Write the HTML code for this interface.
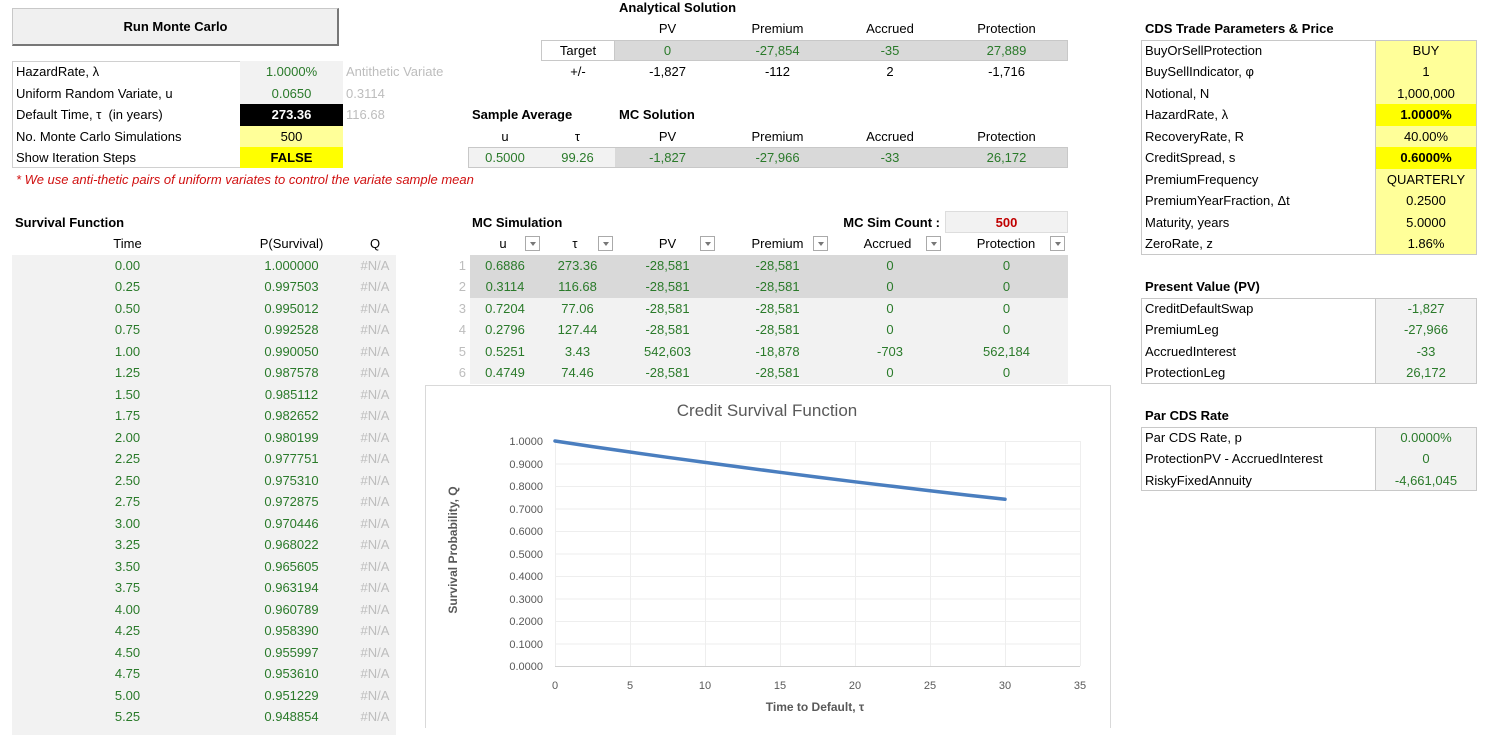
<!DOCTYPE html>
<html><head><meta charset="utf-8">
<style>
*{margin:0;padding:0;box-sizing:border-box}
body{width:1500px;height:728px;overflow:hidden;background:#fff;font-family:"Liberation Sans",sans-serif;font-size:13px;color:#000;position:relative}
.c{position:absolute;height:21px;line-height:21px;white-space:nowrap}
.r{text-align:right}.m{text-align:center}
.g{color:#2a7a2a}.b{font-weight:bold}.gr{color:#bdbdbd}
.box{position:absolute}
.dd{position:absolute;width:15px;height:15px;border:1px solid #aaa;background:#fff}
.dd:after{content:"";position:absolute;left:4px;top:5px;border-left:3px solid transparent;border-right:3px solid transparent;border-top:4px solid #777}
</style></head><body>

<div class="box" style="left:12px;top:8px;width:327px;height:38px;background:#f0f0f0;border:1px solid #c8c8c8;border-right:2px solid #777;border-bottom:2px solid #777"></div>
<div class="c m b" style="left:12px;top:16px;width:327px">Run Monte Carlo</div>

<div class="box" style="left:12px;top:61px;width:331px;height:107px;border:1px solid #d0d0d0"></div>
<div class="box" style="left:240px;top:61px;width:103px;height:43px;background:#f2f2f2"></div>
<div class="box" style="left:240px;top:104px;width:103px;height:21.5px;background:#000"></div>
<div class="box" style="left:240px;top:125.5px;width:103px;height:21.5px;background:#ffff99"></div>
<div class="box" style="left:240px;top:147px;width:103px;height:21px;background:#ffff00"></div>
<div class="c" style="left:16px;top:61px">HazardRate, λ</div>
<div class="c m g" style="left:240px;top:61px;width:103px">1.0000%</div>
<div class="c gr" style="left:346px;top:61px">Antithetic Variate</div>
<div class="c" style="left:16px;top:82.5px">Uniform Random Variate, u</div>
<div class="c m g" style="left:240px;top:82.5px;width:103px">0.0650</div>
<div class="c gr" style="left:346px;top:82.5px">0.3114</div>
<div class="c" style="left:16px;top:104px">Default Time, τ &nbsp;(in years)</div>
<div class="c m b" style="left:240px;top:104px;width:103px;color:#fff">273.36</div>
<div class="c gr" style="left:346px;top:104px">116.68</div>
<div class="c" style="left:16px;top:125.5px">No. Monte Carlo Simulations</div>
<div class="c m" style="left:240px;top:125.5px;width:103px">500</div>
<div class="c" style="left:16px;top:147px">Show Iteration Steps</div>
<div class="c m b" style="left:240px;top:147px;width:103px">FALSE</div>
<div class="c" style="left:16px;top:168.5px;color:#d01010;font-style:italic">* We use anti-thetic pairs of uniform variates to control the variate sample mean</div>

<div class="c b" style="left:619px;top:-3px">Analytical Solution</div>
<div class="c m" style="left:615px;top:18px;width:105px">PV</div>
<div class="c m" style="left:720px;top:18px;width:115px">Premium</div>
<div class="c m" style="left:835px;top:18px;width:110px">Accrued</div>
<div class="c m" style="left:945px;top:18px;width:123px">Protection</div>
<div class="box" style="left:541px;top:39.5px;width:527px;height:21.5px;border:1px solid #c8c8c8;background:#d9d9d9"></div>
<div class="box" style="left:542px;top:40.5px;width:73px;height:19.5px;background:#fff;border-right:1px solid #c8c8c8"></div>
<div class="c m" style="left:541px;top:39.5px;width:74px">Target</div>
<div class="c m g" style="left:615px;top:39.5px;width:105px">0</div>
<div class="c m g" style="left:720px;top:39.5px;width:115px">-27,854</div>
<div class="c m g" style="left:835px;top:39.5px;width:110px">-35</div>
<div class="c m g" style="left:945px;top:39.5px;width:123px">27,889</div>
<div class="c m" style="left:541px;top:61px;width:74px">+/-</div>
<div class="c m" style="left:615px;top:61px;width:105px">-1,827</div>
<div class="c m" style="left:720px;top:61px;width:115px">-112</div>
<div class="c m" style="left:835px;top:61px;width:110px">2</div>
<div class="c m" style="left:945px;top:61px;width:123px">-1,716</div>

<div class="c b" style="left:472px;top:104px">Sample Average</div>
<div class="c b" style="left:619px;top:104px">MC Solution</div>
<div class="c m" style="left:470px;top:125.5px;width:70px">u</div>
<div class="c m" style="left:540px;top:125.5px;width:75px">τ</div>
<div class="c m" style="left:615px;top:125.5px;width:105px">PV</div>
<div class="c m" style="left:720px;top:125.5px;width:115px">Premium</div>
<div class="c m" style="left:835px;top:125.5px;width:110px">Accrued</div>
<div class="c m" style="left:945px;top:125.5px;width:123px">Protection</div>
<div class="box" style="left:468px;top:147px;width:600px;height:21px;border:1px solid #c8c8c8;background:#d9d9d9"></div>
<div class="box" style="left:469px;top:148px;width:146px;height:19px;background:#f2f2f2"></div>
<div class="c m g" style="left:470px;top:147px;width:70px">0.5000</div>
<div class="c m g" style="left:540px;top:147px;width:75px">99.26</div>
<div class="c m g" style="left:615px;top:147px;width:105px">-1,827</div>
<div class="c m g" style="left:720px;top:147px;width:115px">-27,966</div>
<div class="c m g" style="left:835px;top:147px;width:110px">-33</div>
<div class="c m g" style="left:945px;top:147px;width:123px">26,172</div>

<div class="c b" style="left:1145px;top:18px">CDS Trade Parameters &amp; Price</div>
<div class="box" style="left:1141px;top:39.5px;width:336px;height:215px;border:1px solid #c8c8c8"></div>
<div class="box" style="left:1375px;top:40.5px;width:101px;height:213px;background:#ffff99;border-left:1px solid #c8c8c8"></div>
<div class="box" style="left:1376px;top:104px;width:100px;height:21.5px;background:#ffff00"></div>
<div class="box" style="left:1376px;top:147px;width:100px;height:21.5px;background:#ffff00"></div>
<div class="c" style="left:1145px;top:39.5px">BuyOrSellProtection</div><div class="c m" style="left:1375px;top:39.5px;width:102px">BUY</div>
<div class="c" style="left:1145px;top:61px">BuySellIndicator, φ</div><div class="c m" style="left:1375px;top:61px;width:102px">1</div>
<div class="c" style="left:1145px;top:82.5px">Notional, N</div><div class="c m" style="left:1375px;top:82.5px;width:102px">1,000,000</div>
<div class="c" style="left:1145px;top:104px">HazardRate, λ</div><div class="c m b" style="left:1375px;top:104px;width:102px">1.0000%</div>
<div class="c" style="left:1145px;top:125.5px">RecoveryRate, R</div><div class="c m" style="left:1375px;top:125.5px;width:102px">40.00%</div>
<div class="c" style="left:1145px;top:147px">CreditSpread, s</div><div class="c m b" style="left:1375px;top:147px;width:102px">0.6000%</div>
<div class="c" style="left:1145px;top:168.5px">PremiumFrequency</div><div class="c m" style="left:1375px;top:168.5px;width:102px">QUARTERLY</div>
<div class="c" style="left:1145px;top:190px">PremiumYearFraction, Δt</div><div class="c m" style="left:1375px;top:190px;width:102px">0.2500</div>
<div class="c" style="left:1145px;top:211.5px">Maturity, years</div><div class="c m" style="left:1375px;top:211.5px;width:102px">5.0000</div>
<div class="c" style="left:1145px;top:233px">ZeroRate, z</div><div class="c m" style="left:1375px;top:233px;width:102px">1.86%</div>

<div class="c b" style="left:1145px;top:276px">Present Value (PV)</div>
<div class="box" style="left:1141px;top:297.5px;width:336px;height:86px;border:1px solid #c8c8c8"></div>
<div class="box" style="left:1375px;top:298.5px;width:101px;height:84px;background:#f2f2f2;border-left:1px solid #c8c8c8"></div>
<div class="c" style="left:1145px;top:297.5px">CreditDefaultSwap</div><div class="c m g" style="left:1375px;top:297.5px;width:102px">-1,827</div>
<div class="c" style="left:1145px;top:319px">PremiumLeg</div><div class="c m g" style="left:1375px;top:319px;width:102px">-27,966</div>
<div class="c" style="left:1145px;top:340.5px">AccruedInterest</div><div class="c m g" style="left:1375px;top:340.5px;width:102px">-33</div>
<div class="c" style="left:1145px;top:362px">ProtectionLeg</div><div class="c m g" style="left:1375px;top:362px;width:102px">26,172</div>

<div class="c b" style="left:1145px;top:405px">Par CDS Rate</div>
<div class="box" style="left:1141px;top:426.5px;width:336px;height:64px;border:1px solid #c8c8c8"></div>
<div class="box" style="left:1375px;top:427.5px;width:101px;height:62px;background:#f2f2f2;border-left:1px solid #c8c8c8"></div>
<div class="c" style="left:1145px;top:426.5px">Par CDS Rate, p</div><div class="c m g" style="left:1375px;top:426.5px;width:102px">0.0000%</div>
<div class="c" style="left:1145px;top:448px">ProtectionPV - AccruedInterest</div><div class="c m g" style="left:1375px;top:448px;width:102px">0</div>
<div class="c" style="left:1145px;top:469.5px">RiskyFixedAnnuity</div><div class="c m g" style="left:1375px;top:469.5px;width:102px">-4,661,045</div>

<div class="c b" style="left:15px;top:211.5px">Survival Function</div>
<div class="c m" style="left:80px;top:233px;width:95px">Time</div>
<div class="c m" style="left:240px;top:233px;width:103px">P(Survival)</div>
<div class="c m" style="left:355px;top:233px;width:40px">Q</div>
<div class="box" style="left:12px;top:254.5px;width:384px;height:480px;background:#f2f2f2"></div>
<div class="c m g" style="left:80px;top:254.5px;width:95px">0.00</div><div class="c m g" style="left:240px;top:254.5px;width:103px">1.000000</div><div class="c m gr" style="left:352px;top:254.5px;width:46px">#N/A</div>
<div class="c m g" style="left:80px;top:276px;width:95px">0.25</div><div class="c m g" style="left:240px;top:276px;width:103px">0.997503</div><div class="c m gr" style="left:352px;top:276px;width:46px">#N/A</div>
<div class="c m g" style="left:80px;top:297.5px;width:95px">0.50</div><div class="c m g" style="left:240px;top:297.5px;width:103px">0.995012</div><div class="c m gr" style="left:352px;top:297.5px;width:46px">#N/A</div>
<div class="c m g" style="left:80px;top:319px;width:95px">0.75</div><div class="c m g" style="left:240px;top:319px;width:103px">0.992528</div><div class="c m gr" style="left:352px;top:319px;width:46px">#N/A</div>
<div class="c m g" style="left:80px;top:340.5px;width:95px">1.00</div><div class="c m g" style="left:240px;top:340.5px;width:103px">0.990050</div><div class="c m gr" style="left:352px;top:340.5px;width:46px">#N/A</div>
<div class="c m g" style="left:80px;top:362px;width:95px">1.25</div><div class="c m g" style="left:240px;top:362px;width:103px">0.987578</div><div class="c m gr" style="left:352px;top:362px;width:46px">#N/A</div>
<div class="c m g" style="left:80px;top:383.5px;width:95px">1.50</div><div class="c m g" style="left:240px;top:383.5px;width:103px">0.985112</div><div class="c m gr" style="left:352px;top:383.5px;width:46px">#N/A</div>
<div class="c m g" style="left:80px;top:405px;width:95px">1.75</div><div class="c m g" style="left:240px;top:405px;width:103px">0.982652</div><div class="c m gr" style="left:352px;top:405px;width:46px">#N/A</div>
<div class="c m g" style="left:80px;top:426.5px;width:95px">2.00</div><div class="c m g" style="left:240px;top:426.5px;width:103px">0.980199</div><div class="c m gr" style="left:352px;top:426.5px;width:46px">#N/A</div>
<div class="c m g" style="left:80px;top:448px;width:95px">2.25</div><div class="c m g" style="left:240px;top:448px;width:103px">0.977751</div><div class="c m gr" style="left:352px;top:448px;width:46px">#N/A</div>
<div class="c m g" style="left:80px;top:469.5px;width:95px">2.50</div><div class="c m g" style="left:240px;top:469.5px;width:103px">0.975310</div><div class="c m gr" style="left:352px;top:469.5px;width:46px">#N/A</div>
<div class="c m g" style="left:80px;top:491px;width:95px">2.75</div><div class="c m g" style="left:240px;top:491px;width:103px">0.972875</div><div class="c m gr" style="left:352px;top:491px;width:46px">#N/A</div>
<div class="c m g" style="left:80px;top:512.5px;width:95px">3.00</div><div class="c m g" style="left:240px;top:512.5px;width:103px">0.970446</div><div class="c m gr" style="left:352px;top:512.5px;width:46px">#N/A</div>
<div class="c m g" style="left:80px;top:534px;width:95px">3.25</div><div class="c m g" style="left:240px;top:534px;width:103px">0.968022</div><div class="c m gr" style="left:352px;top:534px;width:46px">#N/A</div>
<div class="c m g" style="left:80px;top:555.5px;width:95px">3.50</div><div class="c m g" style="left:240px;top:555.5px;width:103px">0.965605</div><div class="c m gr" style="left:352px;top:555.5px;width:46px">#N/A</div>
<div class="c m g" style="left:80px;top:577px;width:95px">3.75</div><div class="c m g" style="left:240px;top:577px;width:103px">0.963194</div><div class="c m gr" style="left:352px;top:577px;width:46px">#N/A</div>
<div class="c m g" style="left:80px;top:598.5px;width:95px">4.00</div><div class="c m g" style="left:240px;top:598.5px;width:103px">0.960789</div><div class="c m gr" style="left:352px;top:598.5px;width:46px">#N/A</div>
<div class="c m g" style="left:80px;top:620px;width:95px">4.25</div><div class="c m g" style="left:240px;top:620px;width:103px">0.958390</div><div class="c m gr" style="left:352px;top:620px;width:46px">#N/A</div>
<div class="c m g" style="left:80px;top:641.5px;width:95px">4.50</div><div class="c m g" style="left:240px;top:641.5px;width:103px">0.955997</div><div class="c m gr" style="left:352px;top:641.5px;width:46px">#N/A</div>
<div class="c m g" style="left:80px;top:663px;width:95px">4.75</div><div class="c m g" style="left:240px;top:663px;width:103px">0.953610</div><div class="c m gr" style="left:352px;top:663px;width:46px">#N/A</div>
<div class="c m g" style="left:80px;top:684.5px;width:95px">5.00</div><div class="c m g" style="left:240px;top:684.5px;width:103px">0.951229</div><div class="c m gr" style="left:352px;top:684.5px;width:46px">#N/A</div>
<div class="c m g" style="left:80px;top:706px;width:95px">5.25</div><div class="c m g" style="left:240px;top:706px;width:103px">0.948854</div><div class="c m gr" style="left:352px;top:706px;width:46px">#N/A</div>

<div class="c b" style="left:472px;top:211.5px">MC Simulation</div>
<div class="c b r" style="left:780px;top:211.5px;width:160px">MC Sim Count :</div>
<div class="box" style="left:945px;top:210.5px;width:123px;height:22px;background:#f2f2f2;border:1px solid #ddd"></div>
<div class="c m b" style="left:945px;top:211.5px;width:123px;color:#c00000">500</div>
<div class="c m" style="left:478px;top:233px;width:50px">u</div><div class="dd" style="left:525px;top:236px"></div>
<div class="c m" style="left:550px;top:233px;width:50px">τ</div><div class="dd" style="left:598px;top:236px"></div>
<div class="c m" style="left:640px;top:233px;width:55px">PV</div><div class="dd" style="left:700px;top:236px"></div>
<div class="c m" style="left:740px;top:233px;width:75px">Premium</div><div class="dd" style="left:813px;top:236px"></div>
<div class="c m" style="left:850px;top:233px;width:75px">Accrued</div><div class="dd" style="left:926px;top:236px"></div>
<div class="c m" style="left:965px;top:233px;width:82px">Protection</div><div class="dd" style="left:1050px;top:236px"></div>
<div class="box" style="left:470px;top:254.5px;width:598px;height:43px;background:#d9d9d9"></div>
<div class="box" style="left:470px;top:297.5px;width:598px;height:86px;background:#f2f2f2"></div>

<div class="c r gr" style="left:440px;top:254.5px;width:26px">1</div><div class="c m g" style="left:470px;top:254.5px;width:70px">0.6886</div><div class="c m g" style="left:540px;top:254.5px;width:75px">273.36</div><div class="c m g" style="left:615px;top:254.5px;width:105px">-28,581</div><div class="c m g" style="left:720px;top:254.5px;width:115px">-28,581</div><div class="c m g" style="left:835px;top:254.5px;width:110px">0</div><div class="c m g" style="left:945px;top:254.5px;width:123px">0</div>
<div class="c r gr" style="left:440px;top:276px;width:26px">2</div><div class="c m g" style="left:470px;top:276px;width:70px">0.3114</div><div class="c m g" style="left:540px;top:276px;width:75px">116.68</div><div class="c m g" style="left:615px;top:276px;width:105px">-28,581</div><div class="c m g" style="left:720px;top:276px;width:115px">-28,581</div><div class="c m g" style="left:835px;top:276px;width:110px">0</div><div class="c m g" style="left:945px;top:276px;width:123px">0</div>
<div class="c r gr" style="left:440px;top:297.5px;width:26px">3</div><div class="c m g" style="left:470px;top:297.5px;width:70px">0.7204</div><div class="c m g" style="left:540px;top:297.5px;width:75px">77.06</div><div class="c m g" style="left:615px;top:297.5px;width:105px">-28,581</div><div class="c m g" style="left:720px;top:297.5px;width:115px">-28,581</div><div class="c m g" style="left:835px;top:297.5px;width:110px">0</div><div class="c m g" style="left:945px;top:297.5px;width:123px">0</div>
<div class="c r gr" style="left:440px;top:319px;width:26px">4</div><div class="c m g" style="left:470px;top:319px;width:70px">0.2796</div><div class="c m g" style="left:540px;top:319px;width:75px">127.44</div><div class="c m g" style="left:615px;top:319px;width:105px">-28,581</div><div class="c m g" style="left:720px;top:319px;width:115px">-28,581</div><div class="c m g" style="left:835px;top:319px;width:110px">0</div><div class="c m g" style="left:945px;top:319px;width:123px">0</div>
<div class="c r gr" style="left:440px;top:340.5px;width:26px">5</div><div class="c m g" style="left:470px;top:340.5px;width:70px">0.5251</div><div class="c m g" style="left:540px;top:340.5px;width:75px">3.43</div><div class="c m g" style="left:615px;top:340.5px;width:105px">542,603</div><div class="c m g" style="left:720px;top:340.5px;width:115px">-18,878</div><div class="c m g" style="left:835px;top:340.5px;width:110px">-703</div><div class="c m g" style="left:945px;top:340.5px;width:123px">562,184</div>
<div class="c r gr" style="left:440px;top:362px;width:26px">6</div><div class="c m g" style="left:470px;top:362px;width:70px">0.4749</div><div class="c m g" style="left:540px;top:362px;width:75px">74.46</div><div class="c m g" style="left:615px;top:362px;width:105px">-28,581</div><div class="c m g" style="left:720px;top:362px;width:115px">-28,581</div><div class="c m g" style="left:835px;top:362px;width:110px">0</div><div class="c m g" style="left:945px;top:362px;width:123px">0</div>

<svg style="position:absolute;left:0;top:0" width="1500" height="728" viewBox="0 0 1500 728" font-family="Liberation Sans, sans-serif">
<rect x="425.5" y="385.5" width="685" height="350" fill="#fff" stroke="#d9d9d9"/>
<g stroke="#eeeeee" stroke-width="1">
<line x1="555" x2="1080" y1="441.5" y2="441.5"/><line x1="555" x2="1080" y1="464" y2="464"/><line x1="555" x2="1080" y1="486.5" y2="486.5"/><line x1="555" x2="1080" y1="509" y2="509"/><line x1="555" x2="1080" y1="531.5" y2="531.5"/><line x1="555" x2="1080" y1="554" y2="554"/><line x1="555" x2="1080" y1="576.5" y2="576.5"/><line x1="555" x2="1080" y1="599" y2="599"/><line x1="555" x2="1080" y1="621.5" y2="621.5"/><line x1="555" x2="1080" y1="644" y2="644"/>
<line y1="441" y2="666" x1="555.5" x2="555.5"/><line y1="441" y2="666" x1="630.5" x2="630.5"/><line y1="441" y2="666" x1="705.5" x2="705.5"/><line y1="441" y2="666" x1="780.5" x2="780.5"/><line y1="441" y2="666" x1="855.5" x2="855.5"/><line y1="441" y2="666" x1="930.5" x2="930.5"/><line y1="441" y2="666" x1="1005.5" x2="1005.5"/><line y1="441" y2="666" x1="1080.5" x2="1080.5"/>
</g>
<line x1="555" x2="1080" y1="666.5" y2="666.5" stroke="#d0d0d0"/>
<text x="767" y="416" text-anchor="middle" font-size="17" fill="#595959">Credit Survival Function</text>
<g font-size="11" fill="#595959" text-anchor="end">
<text x="543" y="445">1.0000</text><text x="543" y="468">0.9000</text><text x="543" y="490">0.8000</text><text x="543" y="513">0.7000</text><text x="543" y="535">0.6000</text><text x="543" y="558">0.5000</text><text x="543" y="580">0.4000</text><text x="543" y="603">0.3000</text><text x="543" y="625">0.2000</text><text x="543" y="648">0.1000</text><text x="543" y="670">0.0000</text>
</g>
<g font-size="11" fill="#595959" text-anchor="middle">
<text x="555" y="689">0</text><text x="630" y="689">5</text><text x="705" y="689">10</text><text x="780" y="689">15</text><text x="855" y="689">20</text><text x="930" y="689">25</text><text x="1005" y="689">30</text><text x="1080" y="689">35</text>
</g>
<text x="815" y="711" text-anchor="middle" font-size="12" font-weight="bold" fill="#595959">Time to Default, τ</text>
<text transform="translate(457,550) rotate(-90)" text-anchor="middle" font-size="12" font-weight="bold" fill="#595959">Survival Probability, Q</text>
<polyline fill="none" stroke="#4a7ebf" stroke-width="3.5" stroke-linecap="round" points="555,441 592.5,446.6 630,452 667.5,457.3 705,462.4 742.5,467.4 780,472.3 817.5,477.1 855,481.8 892.5,486.3 930,490.8 967.5,495.1 1005,499.3"/>
</svg>

</body></html>
